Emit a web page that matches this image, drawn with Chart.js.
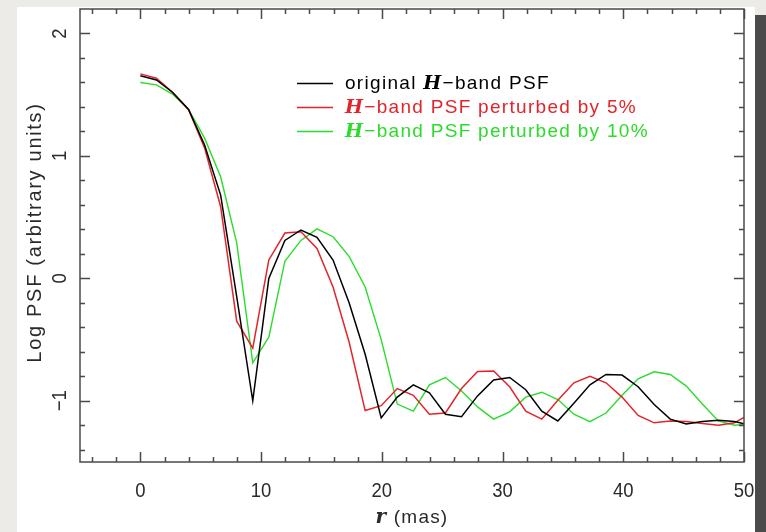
<!DOCTYPE html>
<html>
<head>
<meta charset="utf-8">
<script src="https://cdn.jsdelivr.net/npm/chart.js@4.4.0/dist/chart.umd.min.js"></script>
<style>
html, body { margin: 0; padding: 0; }
body { width: 766px; height: 532px; background: #ecebe7; position: relative; overflow: hidden; }
#panel { position: absolute; left: 17px; top: 7px; width: 738px; height: 525px; background: #fff; }
#wrap { position: absolute; left: 0; top: 0; width: 766px; height: 532px; }
#bar { position: absolute; left: 755px; top: 15px; width: 11px; height: 517px; background: #4b4b4b; }
</style>
</head>
<body>
<div id="panel"></div>
<div id="wrap"><canvas id="psf" width="766" height="532"></canvas></div>
<div id="bar"></div>
<script>
// radius in mas
var rValues = [0, 1.33, 2.66, 3.99, 5.32, 6.65, 7.98, 9.31, 10.64, 11.97,
  13.3, 14.63, 15.96, 17.29, 18.62, 19.95, 21.28, 22.61, 23.94, 25.27,
  26.6, 27.93, 29.26, 30.59, 31.92, 33.25, 34.58, 35.91, 37.24, 38.57,
  39.9, 41.23, 42.56, 43.89, 45.22, 46.55, 47.88, 49.21, 50.54];

var original = [1.655, 1.62, 1.52, 1.38, 1.09, 0.68, -0.15, -1.0, 0.0, 0.31,
  0.395, 0.335, 0.15, -0.2, -0.62, -1.14, -0.97, -0.87, -0.935, -1.11,
  -1.13, -0.96, -0.83, -0.81, -0.91, -1.085, -1.165, -1.02, -0.87, -0.785,
  -0.79, -0.885, -1.03, -1.15, -1.19, -1.17, -1.16, -1.17, -1.2];

var perturbed5 = [1.67, 1.635, 1.52, 1.38, 1.066, 0.585, -0.35, -0.57, 0.15, 0.37,
  0.38, 0.245, -0.07, -0.52, -1.08, -1.04, -0.9, -0.955, -1.11, -1.1,
  -0.9, -0.76, -0.757, -0.886, -1.085, -1.15, -0.995, -0.853, -0.8, -0.853,
  -0.97, -1.12, -1.18, -1.165, -1.17, -1.185, -1.2, -1.18, -1.105];

var perturbed10 = [1.6, 1.58, 1.505, 1.38, 1.145, 0.83, 0.29, -0.69, -0.48, 0.14,
  0.31, 0.404, 0.34, 0.18, -0.07, -0.5, -1.027, -1.085, -0.87, -0.81,
  -0.92, -1.05, -1.15, -1.09, -0.97, -0.93, -0.99, -1.11, -1.17, -1.1,
  -0.955, -0.82, -0.763, -0.785, -0.88, -1.027, -1.165, -1.2, -1.19];

var xTicks = [0, 10, 20, 30, 40, 50];
var yTicks = [-1, 0, 1, 2];
var seriesColors = ['#000000', '#e3242b', '#2bdc2b'];

function pts(ys) {
  return rValues.map(function (r, i) { return { x: r, y: ys[i] }; });
}

var SANS = '"Liberation Sans", Arial, sans-serif';
var SERIF = '"DejaVu Serif", "Liberation Serif", serif';

// draws a run of text pieces one after another
function richText(ctx, parts, x, y) {
  parts.forEach(function (p) {
    ctx.font = p.font;
    ctx.fillText(p.t, x, y);
    x += ctx.measureText(p.t).width;
  });
  return x;
}
function richWidth(ctx, parts) {
  var w = 0;
  parts.forEach(function (p) { ctx.font = p.font; w += ctx.measureText(p.t).width; });
  return w;
}

var pgFrame = {
  id: 'pgFrame',
  afterDatasetsDraw: function (chart) {
    var ctx = chart.ctx, a = chart.chartArea;
    var xs = chart.scales.x, ys = chart.scales.y;
    ctx.save();
    ctx.strokeStyle = '#4a4a4a';
    ctx.lineWidth = 1.5;
    ctx.strokeRect(a.left, a.top, a.right - a.left, a.bottom - a.top);

    ctx.beginPath();
    for (var v = -4; v <= 50; v += 2) {
      var len = (v % 10 === 0) ? 10 : 5;
      var px = Math.round(xs.getPixelForValue(v)) + 0.5;
      ctx.moveTo(px, a.bottom); ctx.lineTo(px, a.bottom - len);
      ctx.moveTo(px, a.top); ctx.lineTo(px, a.top + len);
    }
    for (var k = -7; k <= 10; k++) {
      var yv = k / 5;
      var ylen = (k % 5 === 0) ? 10 : 5;
      var py = Math.round(ys.getPixelForValue(yv)) + 0.5;
      ctx.moveTo(a.left, py); ctx.lineTo(a.left + ylen, py);
      ctx.moveTo(a.right, py); ctx.lineTo(a.right - ylen, py);
    }
    ctx.stroke();

    // tick labels
    ctx.fillStyle = '#2a2a2a';
    ctx.textAlign = 'center';
    ctx.textBaseline = 'middle';
    ctx.font = '21px ' + SANS;
    xTicks.forEach(function (t) {
      ctx.save();
      ctx.translate(xs.getPixelForValue(t), 491);
      ctx.scale(0.88, 1);
      ctx.fillText(String(t), 0, 0);
      ctx.restore();
    });
    yTicks.forEach(function (t) {
      ctx.save();
      ctx.translate(60, ys.getPixelForValue(t));
      ctx.rotate(-Math.PI / 2);
      ctx.scale(0.88, 1);
      ctx.fillText(t < 0 ? '\u2212' + Math.abs(t) : String(t), 0, 0);
      ctx.restore();
    });

    // axis titles
    ctx.save();
    ctx.translate(35, (a.top + a.bottom) / 2 - 3);
    ctx.rotate(-Math.PI / 2);
    ctx.font = '20px ' + SANS;
    ctx.letterSpacing = '1.7px';
    ctx.fillText('Log PSF (arbitrary units)', 0, 0);
    ctx.restore();

    var xt = [{ t: 'r', font: 'italic bold 20px ' + SERIF }, { t: ' (mas)', font: '19px ' + SANS }];
    ctx.textAlign = 'left';
    ctx.letterSpacing = '1.2px';
    var w = richWidth(ctx, xt);
    richText(ctx, xt, (a.left + a.right) / 2 - w / 2, 518);

    // legend
    var H = { t: 'H', font: 'italic bold 19px ' + SERIF };
    var rows = [
      [{ t: 'original ', font: '19px ' + SANS }, H, { t: '\u2212band PSF', font: '19px ' + SANS }],
      [H, { t: '\u2212band PSF perturbed by 5%', font: '19px ' + SANS }],
      [H, { t: '\u2212band PSF perturbed by 10%', font: '19px ' + SANS }]
    ];
    var rowY = [83, 107, 131];
    ctx.letterSpacing = '1.3px';
    rows.forEach(function (row, i) {
      ctx.strokeStyle = seriesColors[i];
      ctx.lineWidth = 1.5;
      ctx.beginPath();
      ctx.moveTo(297, rowY[i] + 0.5); ctx.lineTo(333, rowY[i] + 0.5);
      ctx.stroke();
      ctx.fillStyle = seriesColors[i];
      richText(ctx, row, 345, rowY[i] + 1);
    });
    ctx.restore();
  }
};

new Chart(document.getElementById('psf'), {
  type: 'line',
  data: {
    datasets: [
      { label: 'original H-band PSF', data: pts(original), borderColor: seriesColors[0], borderWidth: 1.5 },
      { label: 'H-band PSF perturbed by 5%', data: pts(perturbed5), borderColor: seriesColors[1], borderWidth: 1.5 },
      { label: 'H-band PSF perturbed by 10%', data: pts(perturbed10), borderColor: seriesColors[2], borderWidth: 1.4 }
    ]
  },
  options: {
    responsive: false,
    animation: false,
    layout: { padding: { left: 80, top: 9, right: 22, bottom: 70 } },
    elements: { point: { radius: 0 }, line: { tension: 0 } },
    plugins: { legend: { display: false }, tooltip: { enabled: false } },
    scales: {
      x: { type: 'linear', min: -5, max: 50, display: false },
      y: { type: 'linear', min: -1.5, max: 2.2, display: false }
    }
  },
  plugins: [pgFrame]
});
</script>
</body>
</html>
